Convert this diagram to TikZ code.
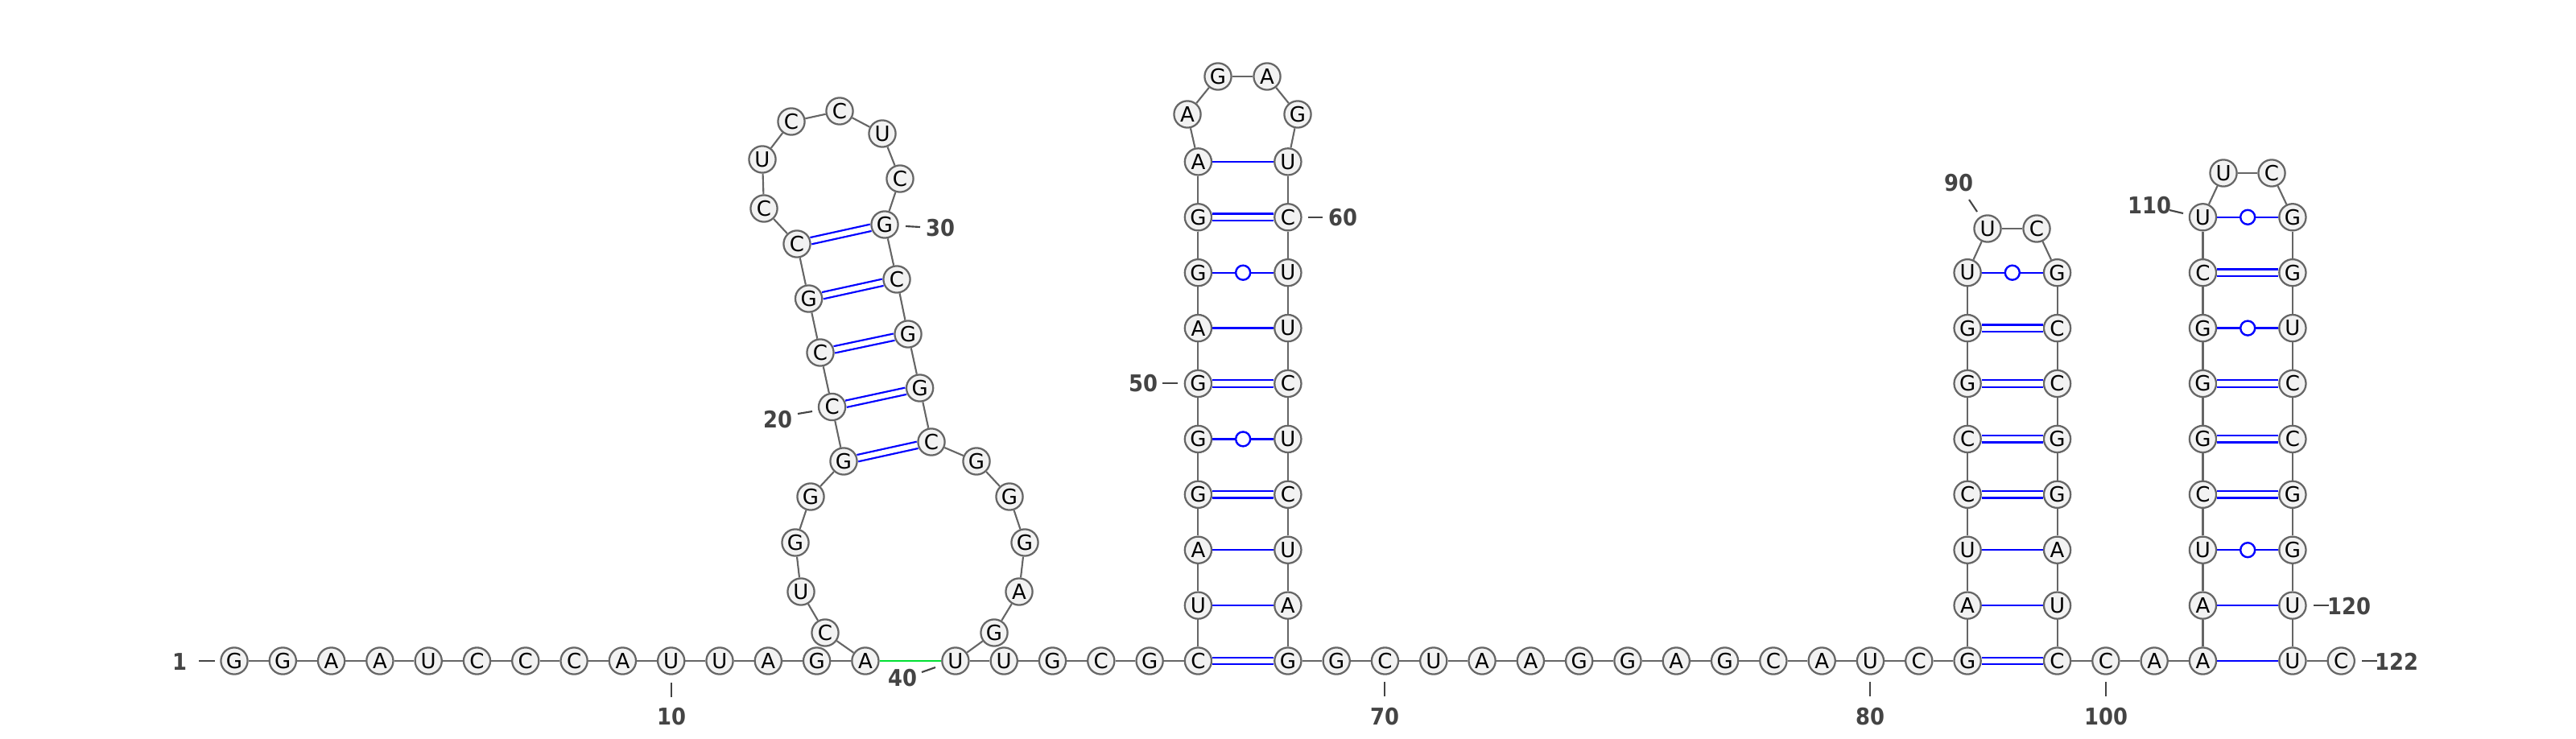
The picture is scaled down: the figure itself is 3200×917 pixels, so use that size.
\documentclass[tikz,border=0pt]{standalone}
\usepackage{fontspec}
\setmainfont{DejaVu Sans}
\newfontfamily\numfont{DejaVu Sans Condensed}
\usetikzlibrary{positioning}
\definecolor{bonegray}{RGB}{102,102,102}
\definecolor{nucfill}{RGB}{242,242,242}
\definecolor{numgray}{RGB}{68,68,68}
\definecolor{knotgreen}{RGB}{0,224,50}
\tikzset{
	nuc/.style={circle,draw=bonegray,fill=nucfill,line width=1.7pt,inner sep=0pt,minimum size=24.9pt,text=black,font=\fontsize{19.5}{19.5}\selectfont},
	bone/.style={draw=bonegray,line width=1.6pt},
	spair/.style={draw=blue,line width=1.8pt},
	dpair/.style={draw=blue,line width=1.7pt,double=white,double distance=4.6pt},
	wpair/.style={draw=blue,line width=1.8pt},
	wobble/.style={circle,draw=blue,fill=white,line width=1.8pt,inner sep=0pt,minimum size=13.5pt},
	knot/.style={draw=knotgreen,line width=2pt},
	num/.style={text=numgray,inner sep=0pt,font=\numfont\fontsize{21.5}{21.5}\selectfont\bfseries},
	ticks/.style={draw=numgray,line width=1.6pt}
}

\begin{document}
\begin{tikzpicture}[x=0.75pt,y=-0.75pt,on grid,node distance=51.675pt and 45.225pt]
	\useasboundingbox (0,0) rectangle (3200,917);
	\node[nuc](n1) at (291,821){G};
	\node[nuc](n2)[right = of n1]{G};
	\node[nuc](n3)[right = of n2]{A};
	\node[nuc](n4)[right = of n3]{A};
	\node[nuc](n5)[right = of n4]{U};
	\node[nuc](n6)[right = of n5]{C};
	\node[nuc](n7)[right = of n6]{C};
	\node[nuc](n8)[right = of n7]{C};
	\node[nuc](n9)[right = of n8]{A};
	\node[nuc](n10)[right = of n9]{U};
	\node[nuc](n11)[right = of n10]{U};
	\node[nuc](n12)[right = of n11]{A};
	\node[nuc](n13)[right = of n12]{G};
	\node[nuc](n14)[right = of n13]{A};
	\node[nuc](n15) at (1025,786){C};
	\node[nuc](n16) at (995,735){U};
	\node[nuc](n17) at (988,674){G};
	\node[nuc](n18) at (1007,617){G};
	\node[nuc](n19) at (1048,573){G};
	\node[nuc](n20) at (1033.6,505.5){C};
	\node[nuc](n21) at (1019,438){C};
	\node[nuc](n22) at (1004.6,371){G};
	\node[nuc](n23) at (990,303){C};
	\node[nuc](n24) at (949,259){C};
	\node[nuc](n25) at (947,198){U};
	\node[nuc](n26) at (983,151){C};
	\node[nuc](n27) at (1043,138){C};
	\node[nuc](n28) at (1096,166){U};
	\node[nuc](n29) at (1118,222){C};
	\node[nuc](n30) at (1099,279){G};
	\node[nuc](n31) at (1114,347){C};
	\node[nuc](n32) at (1128,415){G};
	\node[nuc](n33) at (1142.6,482){G};
	\node[nuc](n34) at (1157,549){C};
	\node[nuc](n35) at (1213,573){G};
	\node[nuc](n36) at (1254,617){G};
	\node[nuc](n37) at (1273,674){G};
	\node[nuc](n38) at (1266,735){A};
	\node[nuc](n39) at (1235,786){G};
	\node[nuc](n40)[right = 84pt of n14]{U};
	\node[nuc](n41)[right = of n40]{U};
	\node[nuc](n42)[right = of n41]{G};
	\node[nuc](n43)[right = of n42]{C};
	\node[nuc](n44)[right = of n43]{G};
	\node[nuc](n45)[right = of n44]{C};
	\node[nuc](n46)[above = of n45]{U};
	\node[nuc](n47)[above = of n46]{A};
	\node[nuc](n48)[above = of n47]{G};
	\node[nuc](n49)[above = of n48]{G};
	\node[nuc](n50)[above = of n49]{G};
	\node[nuc](n51)[above = of n50]{A};
	\node[nuc](n52)[above = of n51]{G};
	\node[nuc](n53)[above = of n52]{G};
	\node[nuc](n54)[above = of n53]{A};
	\node[nuc](n55) at (1475,142){A};
	\node[nuc](n56) at (1513,95){G};
	\node[nuc](n57) at (1574,95){A};
	\node[nuc](n58) at (1612,142){G};
	\node[nuc](n59)[right = 83.6pt of n54]{U};
	\node[nuc](n60)[below = of n59]{C};
	\node[nuc](n61)[below = of n60]{U};
	\node[nuc](n62)[below = of n61]{U};
	\node[nuc](n63)[below = of n62]{C};
	\node[nuc](n64)[below = of n63]{U};
	\node[nuc](n65)[below = of n64]{C};
	\node[nuc](n66)[below = of n65]{U};
	\node[nuc](n67)[below = of n66]{A};
	\node[nuc](n68)[below = of n67]{G};
	\node[nuc](n69)[right = of n68]{G};
	\node[nuc](n70)[right = of n69]{C};
	\node[nuc](n71)[right = of n70]{U};
	\node[nuc](n72)[right = of n71]{A};
	\node[nuc](n73)[right = of n72]{A};
	\node[nuc](n74)[right = of n73]{G};
	\node[nuc](n75)[right = of n74]{G};
	\node[nuc](n76)[right = of n75]{A};
	\node[nuc](n77)[right = of n76]{G};
	\node[nuc](n78)[right = of n77]{C};
	\node[nuc](n79)[right = of n78]{A};
	\node[nuc](n80)[right = of n79]{U};
	\node[nuc](n81)[right = of n80]{C};
	\node[nuc](n82)[right = of n81]{G};
	\node[nuc](n83)[above = of n82]{A};
	\node[nuc](n84)[above = of n83]{U};
	\node[nuc](n85)[above = of n84]{C};
	\node[nuc](n86)[above = of n85]{C};
	\node[nuc](n87)[above = of n86]{G};
	\node[nuc](n88)[above = of n87]{G};
	\node[nuc](n89)[above = of n88]{U};
	\node[nuc](n90) at (2469,284){U};
	\node[nuc](n91) at (2530,284){C};
	\node[nuc](n92)[right = 83.6pt of n89]{G};
	\node[nuc](n93)[below = of n92]{C};
	\node[nuc](n94)[below = of n93]{C};
	\node[nuc](n95)[below = of n94]{G};
	\node[nuc](n96)[below = of n95]{G};
	\node[nuc](n97)[below = of n96]{A};
	\node[nuc](n98)[below = of n97]{U};
	\node[nuc](n99)[below = of n98]{C};
	\node[nuc](n100)[right = of n99]{C};
	\node[nuc](n101)[right = of n100]{A};
	\node[nuc](n102)[right = of n101]{A};
	\node[nuc](n103)[above = of n102]{A};
	\node[nuc](n104)[above = of n103]{U};
	\node[nuc](n105)[above = of n104]{C};
	\node[nuc](n106)[above = of n105]{G};
	\node[nuc](n107)[above = of n106]{G};
	\node[nuc](n108)[above = of n107]{G};
	\node[nuc](n109)[above = of n108]{C};
	\node[nuc](n110)[above = of n109]{U};
	\node[nuc](n111) at (2762,215){U};
	\node[nuc](n112) at (2822,215){C};
	\node[nuc](n113)[right = 83.6pt of n110]{G};
	\node[nuc](n114)[below = of n113]{G};
	\node[nuc](n115)[below = of n114]{U};
	\node[nuc](n116)[below = of n115]{C};
	\node[nuc](n117)[below = of n116]{C};
	\node[nuc](n118)[below = of n117]{G};
	\node[nuc](n119)[below = of n118]{G};
	\node[nuc](n120)[below = of n119]{U};
	\node[nuc](n121)[below = of n120]{U};
	\node[nuc](n122)[right = of n121]{C};
	\path[bone](n1) edge (n2);
	\path[bone](n2) edge (n3);
	\path[bone](n3) edge (n4);
	\path[bone](n4) edge (n5);
	\path[bone](n5) edge (n6);
	\path[bone](n6) edge (n7);
	\path[bone](n7) edge (n8);
	\path[bone](n8) edge (n9);
	\path[bone](n9) edge (n10);
	\path[bone](n10) edge (n11);
	\path[bone](n11) edge (n12);
	\path[bone](n12) edge (n13);
	\path[bone](n13) edge (n14);
	\path[bone](n14) edge (n15);
	\path[bone](n15) edge (n16);
	\path[bone](n16) edge (n17);
	\path[bone](n17) edge (n18);
	\path[bone](n18) edge (n19);
	\path[bone](n19) edge (n20);
	\path[bone](n20) edge (n21);
	\path[bone](n21) edge (n22);
	\path[bone](n22) edge (n23);
	\path[bone](n23) edge (n24);
	\path[bone](n24) edge (n25);
	\path[bone](n25) edge (n26);
	\path[bone](n26) edge (n27);
	\path[bone](n27) edge (n28);
	\path[bone](n28) edge (n29);
	\path[bone](n29) edge (n30);
	\path[bone](n30) edge (n31);
	\path[bone](n31) edge (n32);
	\path[bone](n32) edge (n33);
	\path[bone](n33) edge (n34);
	\path[bone](n34) edge (n35);
	\path[bone](n35) edge (n36);
	\path[bone](n36) edge (n37);
	\path[bone](n37) edge (n38);
	\path[bone](n38) edge (n39);
	\path[bone](n39) edge (n40);
	\path[bone](n40) edge (n41);
	\path[bone](n41) edge (n42);
	\path[bone](n42) edge (n43);
	\path[bone](n43) edge (n44);
	\path[bone](n44) edge (n45);
	\path[bone](n45) edge (n46);
	\path[bone](n46) edge (n47);
	\path[bone](n47) edge (n48);
	\path[bone](n48) edge (n49);
	\path[bone](n49) edge (n50);
	\path[bone](n50) edge (n51);
	\path[bone](n51) edge (n52);
	\path[bone](n52) edge (n53);
	\path[bone](n53) edge (n54);
	\path[bone](n54) edge (n55);
	\path[bone](n55) edge (n56);
	\path[bone](n56) edge (n57);
	\path[bone](n57) edge (n58);
	\path[bone](n58) edge (n59);
	\path[bone](n59) edge (n60);
	\path[bone](n60) edge (n61);
	\path[bone](n61) edge (n62);
	\path[bone](n62) edge (n63);
	\path[bone](n63) edge (n64);
	\path[bone](n64) edge (n65);
	\path[bone](n65) edge (n66);
	\path[bone](n66) edge (n67);
	\path[bone](n67) edge (n68);
	\path[bone](n68) edge (n69);
	\path[bone](n69) edge (n70);
	\path[bone](n70) edge (n71);
	\path[bone](n71) edge (n72);
	\path[bone](n72) edge (n73);
	\path[bone](n73) edge (n74);
	\path[bone](n74) edge (n75);
	\path[bone](n75) edge (n76);
	\path[bone](n76) edge (n77);
	\path[bone](n77) edge (n78);
	\path[bone](n78) edge (n79);
	\path[bone](n79) edge (n80);
	\path[bone](n80) edge (n81);
	\path[bone](n81) edge (n82);
	\path[bone](n82) edge (n83);
	\path[bone](n83) edge (n84);
	\path[bone](n84) edge (n85);
	\path[bone](n85) edge (n86);
	\path[bone](n86) edge (n87);
	\path[bone](n87) edge (n88);
	\path[bone](n88) edge (n89);
	\path[bone](n89) edge (n90);
	\path[bone](n90) edge (n91);
	\path[bone](n91) edge (n92);
	\path[bone](n92) edge (n93);
	\path[bone](n93) edge (n94);
	\path[bone](n94) edge (n95);
	\path[bone](n95) edge (n96);
	\path[bone](n96) edge (n97);
	\path[bone](n97) edge (n98);
	\path[bone](n98) edge (n99);
	\path[bone](n99) edge (n100);
	\path[bone](n100) edge (n101);
	\path[bone](n101) edge (n102);
	\path[bone](n102) edge (n103);
	\path[bone](n103) edge (n104);
	\path[bone](n104) edge (n105);
	\path[bone](n105) edge (n106);
	\path[bone](n106) edge (n107);
	\path[bone](n107) edge (n108);
	\path[bone](n108) edge (n109);
	\path[bone](n109) edge (n110);
	\path[bone](n110) edge (n111);
	\path[bone](n111) edge (n112);
	\path[bone](n112) edge (n113);
	\path[bone](n113) edge (n114);
	\path[bone](n114) edge (n115);
	\path[bone](n115) edge (n116);
	\path[bone](n116) edge (n117);
	\path[bone](n117) edge (n118);
	\path[bone](n118) edge (n119);
	\path[bone](n119) edge (n120);
	\path[bone](n120) edge (n121);
	\path[bone](n121) edge (n122);
	\path[knot](n14) edge (n40);
	\path(n19) edge[dpair] (n34);
	\path(n20) edge[dpair] (n33);
	\path(n21) edge[dpair] (n32);
	\path(n22) edge[dpair] (n31);
	\path(n23) edge[dpair] (n30);
	\path(n45) edge[dpair] (n68);
	\path[spair](n46) edge (n67);
	\path[spair](n47) edge (n66);
	\path(n48) edge[dpair] (n65);
	\path[wpair](n49) edge node[wobble](w49){} (n64);
	\path(n50) edge[dpair] (n63);
	\path[spair](n51) edge (n62);
	\path[wpair](n52) edge node[wobble](w52){} (n61);
	\path(n53) edge[dpair] (n60);
	\path[spair](n54) edge (n59);
	\path(n82) edge[dpair] (n99);
	\path[spair](n83) edge (n98);
	\path[spair](n84) edge (n97);
	\path(n85) edge[dpair] (n96);
	\path(n86) edge[dpair] (n95);
	\path(n87) edge[dpair] (n94);
	\path(n88) edge[dpair] (n93);
	\path[wpair](n89) edge node[wobble](w89){} (n92);
	\path[spair](n102) edge (n121);
	\path[spair](n103) edge (n120);
	\path[wpair](n104) edge node[wobble](w104){} (n119);
	\path(n105) edge[dpair] (n118);
	\path(n106) edge[dpair] (n117);
	\path(n107) edge[dpair] (n116);
	\path[wpair](n108) edge node[wobble](w108){} (n115);
	\path(n109) edge[dpair] (n114);
	\path[wpair](n110) edge node[wobble](w110){} (n113);
	\node[num](l1) at (223,822){1};
	\node[num](l10) at (834,890){10};
	\node[num](l20) at (966,521){20};
	\node[num](l30) at (1168,283){30};
	\node[num](l40) at (1121,842){40};
	\node[num](l50) at (1420,476){50};
	\node[num](l60) at (1668,270){60};
	\node[num](l70) at (1720,890){70};
	\node[num](l80) at (2323,890){80};
	\node[num](l90) at (2433,227){90};
	\node[num](l100) at (2616,890){100};
	\node[num](l110) at (2670,255){110};
	\node[num](l120) at (2918,753){120};
	\node[num](l122) at (2977,822){122};
	\coordinate (t1a) at (247,821);
	\coordinate (t1b) at (267,821);
	\coordinate (t10a) at (834,848);
	\coordinate (t10b) at (834,866);
	\coordinate (t20a) at (991,514);
	\coordinate (t20b) at (1009,511);
	\coordinate (t30a) at (1125,281);
	\coordinate (t30b) at (1143,282);
	\coordinate (t40a) at (1145,835);
	\coordinate (t40b) at (1162,829);
	\coordinate (t50a) at (1444,476);
	\coordinate (t50b) at (1463,476);
	\coordinate (t60a) at (1625,270);
	\coordinate (t60b) at (1643,270);
	\coordinate (t70a) at (1720,847);
	\coordinate (t70b) at (1720,865);
	\coordinate (t80a) at (2323,847);
	\coordinate (t80b) at (2323,865);
	\coordinate (t90a) at (2446,248);
	\coordinate (t90b) at (2456,263);
	\coordinate (t100a) at (2616,847);
	\coordinate (t100b) at (2616,865);
	\coordinate (t110a) at (2695,261);
	\coordinate (t110b) at (2712,265);
	\coordinate (t120a) at (2874,752);
	\coordinate (t120b) at (2893,752);
	\coordinate (t122a) at (2934,821);
	\coordinate (t122b) at (2953,821);
	\path[ticks](t1a) edge (t1b);
	\path[ticks](t10a) edge (t10b);
	\path[ticks](t20a) edge (t20b);
	\path[ticks](t30a) edge (t30b);
	\path[ticks](t40a) edge (t40b);
	\path[ticks](t50a) edge (t50b);
	\path[ticks](t60a) edge (t60b);
	\path[ticks](t70a) edge (t70b);
	\path[ticks](t80a) edge (t80b);
	\path[ticks](t90a) edge (t90b);
	\path[ticks](t100a) edge (t100b);
	\path[ticks](t110a) edge (t110b);
	\path[ticks](t120a) edge (t120b);
	\path[ticks](t122a) edge (t122b);
\end{tikzpicture}
\end{document}
